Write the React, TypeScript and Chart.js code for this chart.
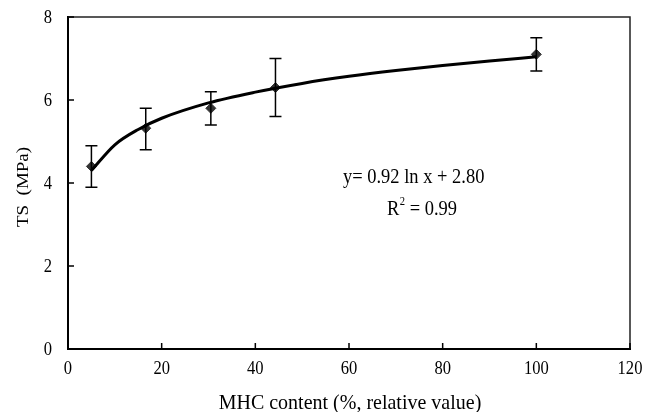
import React, { useEffect, useRef } from "react";
import { Chart, registerables } from "chart.js";

Chart.register(...registerables);

const mhcContent = [5, 16.6, 30.5, 44.3, 100];
const tsValues = [4.4, 5.32, 5.8, 6.3, 7.1];
const errHigh = [4.9, 5.8, 6.2, 7.0, 7.5];
const errLow = [3.9, 4.8, 5.4, 5.6, 6.7];

const trendX = [5, 10, 15, 20, 30, 40, 50, 60, 70, 80, 90, 100];
const trendY = [4.3, 4.92, 5.29, 5.56, 5.93, 6.19, 6.4, 6.57, 6.71, 6.83, 6.94, 7.04];

const xTicks = [0, 20, 40, 60, 80, 100, 120];
const yTicks = [0, 2, 4, 6, 8];

const xTitle = "MHC content (%, relative value)";
const yTitle = "TS  (MPa)";
const equationText = "y= 0.92 ln x + 2.80";
const r2Label = "R";
const r2Sup = "2";
const r2Value = " = 0.99";

const FONT = "'Liberation Serif', 'Times New Roman', serif";

function squashText(ctx: any, text: string, x: number, y: number, size: number, sx: number, align: string) {
  ctx.save();
  ctx.font = `${size}px ${FONT}`;
  ctx.textAlign = align;
  ctx.translate(x, y);
  ctx.scale(sx, 1);
  ctx.fillText(text, 0, 0);
  const w = ctx.measureText(text).width * sx;
  ctx.restore();
  return w;
}

const overlayPlugin = {
  id: "overlay",
  afterDatasetsDraw(chart: any) {
    const { ctx, chartArea, scales } = chart;
    const xs = scales.x;
    const ys = scales.y;
    ctx.save();
    // frame top/right
    ctx.strokeStyle = "#222";
    ctx.lineWidth = 1.5;
    ctx.beginPath();
    ctx.moveTo(chartArea.left, chartArea.top);
    ctx.lineTo(chartArea.right, chartArea.top);
    ctx.lineTo(chartArea.right, chartArea.bottom);
    ctx.stroke();
    // inward ticks
    ctx.strokeStyle = "#000";
    ctx.beginPath();
    xTicks.forEach((v) => {
      const px = xs.getPixelForValue(v);
      ctx.moveTo(px, chartArea.bottom);
      ctx.lineTo(px, chartArea.bottom - 6);
    });
    yTicks.forEach((v) => {
      const py = ys.getPixelForValue(v);
      ctx.moveTo(chartArea.left, py);
      ctx.lineTo(chartArea.left + 6, py);
    });
    ctx.stroke();
    // error bars
    ctx.lineWidth = 1.5;
    ctx.beginPath();
    mhcContent.forEach((x, i) => {
      const px = xs.getPixelForValue(x);
      const pHi = ys.getPixelForValue(errHigh[i]);
      const pLo = ys.getPixelForValue(errLow[i]);
      ctx.moveTo(px, pHi);
      ctx.lineTo(px, pLo);
      ctx.moveTo(px - 6, pHi);
      ctx.lineTo(px + 6, pHi);
      ctx.moveTo(px - 6, pLo);
      ctx.lineTo(px + 6, pLo);
    });
    ctx.stroke();

    ctx.fillStyle = "#000";
    ctx.textBaseline = "alphabetic";
    // tick labels
    xTicks.forEach((v) => {
      squashText(ctx, String(v), xs.getPixelForValue(v), chartArea.bottom + 24.5, 18, 0.92, "center");
    });
    yTicks.forEach((v) => {
      squashText(ctx, String(v), chartArea.left - 16, ys.getPixelForValue(v) + 6, 18, 0.92, "right");
    });
    // axis titles
    squashText(ctx, xTitle, (chartArea.left + chartArea.right) / 2 + 1, 409, 21.5, 0.93, "center");
    ctx.save();
    ctx.translate(24, (chartArea.top + chartArea.bottom) / 2 + 4);
    ctx.rotate(-Math.PI / 2);
    ctx.scale(1, 0.85);
    ctx.font = `19px ${FONT}`;
    ctx.textAlign = "center";
    ctx.textBaseline = "middle";
    ctx.fillText(yTitle, 0, 0);
    ctx.restore();
    // annotation
    ctx.textBaseline = "alphabetic";
    const ex = xs.getPixelForValue(58.7);
    const ey = ys.getPixelForValue(4.0);
    squashText(ctx, equationText, ex, ey, 21, 0.88, "left");
    const rx = xs.getPixelForValue(68.1);
    const ry = ys.getPixelForValue(3.24);
    const rw = squashText(ctx, r2Label, rx, ry, 21, 0.88, "left");
    const sw = squashText(ctx, r2Sup, rx + rw + 0.5, ry - 10, 12, 0.88, "left");
    squashText(ctx, r2Value, rx + rw + sw + 0.5, ry, 21, 0.88, "left");
    ctx.restore();
  },
};

export default function App() {
  const ref = useRef<HTMLCanvasElement | null>(null);
  useEffect(() => {
    document.body.style.margin = "0";
    if (!ref.current) return;
    const chart = new Chart(ref.current, {
      type: "scatter",
      data: {
        datasets: [
          {
            label: "trend",
            data: trendX.map((x, i) => ({ x, y: trendY[i] })),
            showLine: true,
            borderColor: "#000",
            borderWidth: 3,
            pointRadius: 0,
            cubicInterpolationMode: "monotone",
          },
          {
            label: "TS",
            data: mhcContent.map((x, i) => ({ x, y: tsValues[i] })),
            pointStyle: "rectRot",
            pointRadius: 5,
            backgroundColor: "#333",
            borderColor: "#333",
            showLine: false,
          },
        ],
      },
      options: {
        responsive: false,
        animation: false,
        layout: { padding: { top: 17, right: 30, left: 0, bottom: 0 } },
        plugins: { legend: { display: false }, tooltip: { enabled: false } },
        scales: {
          x: {
            type: "linear",
            min: 0,
            max: 120,
            afterFit: (s: any) => {
              s.height = 63;
              s.paddingLeft = 0;
              s.paddingRight = 0;
            },
            grid: { display: false, drawTicks: false },
            border: { display: true, color: "#000", width: 2 },
            ticks: { display: false, stepSize: 20 },
          },
          y: {
            type: "linear",
            min: 0,
            max: 8,
            afterFit: (s: any) => {
              s.width = 68;
              s.paddingTop = 0;
              s.paddingBottom = 0;
            },
            grid: { display: false, drawTicks: false },
            border: { display: true, color: "#000", width: 2 },
            ticks: { display: false, stepSize: 2 },
          },
        },
      },
      plugins: [overlayPlugin],
    });
    return () => chart.destroy();
  }, []);
  return (
    <div style={{ width: 660, height: 412 }}>
      <canvas ref={ref} width={660} height={412} />
    </div>
  );
}
